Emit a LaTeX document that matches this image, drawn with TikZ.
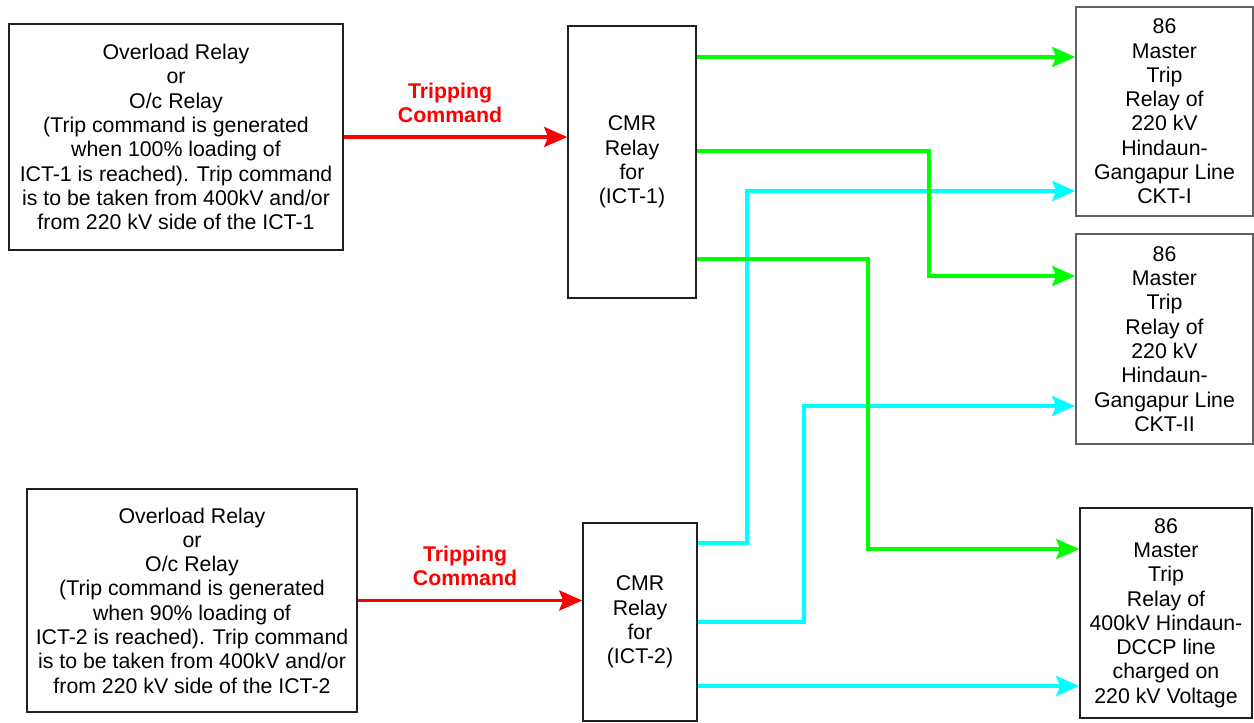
\documentclass[tikz,border=0pt]{standalone}
\usepackage{fontspec}
\setmainfont{Liberation Sans}
\usetikzlibrary{arrows.meta}
\definecolor{grn}{RGB}{0,255,0}
\definecolor{cyn}{RGB}{0,255,255}
\definecolor{rd}{RGB}{255,0,0}
\begin{document}
\begin{tikzpicture}[x=1pt,y=-1pt,
  box/.style={draw=black!88, line width=1.6pt, align=center, inner sep=0pt,
    font=\fontsize{21.3}{24.3}\selectfont},
  greybox/.style={box, draw=black!62},
  lbl/.style={align=center, inner sep=0pt, text=rd,
    font=\fontsize{21.3}{24.3}\selectfont\bfseries},
  tip/.style={-{Stealth[length=23pt,width=20pt,inset=4pt]}},
  redline/.style={tip, draw=rd, line width=3.6pt},
  grnline/.style={tip, draw=grn, line width=4pt},
  cynline/.style={tip, draw=cyn, line width=4pt}]
\useasboundingbox (0,0) rectangle (1254,723);
\fill[white] (0,0) rectangle (1254,723);

% source boxes
\node[box, minimum width=334pt, minimum height=226pt] (a1) at (176,137)
  {Overload Relay\\or\\O/c Relay\\(Trip command is generated\\when 100\% loading of\\ICT-1 is reached). Trip command\\is to be taken from 400kV and/or\\from 220 kV side of the ICT-1};
\node[box, minimum width=330pt, minimum height=223pt] (a2) at (192,600.5)
  {Overload Relay\\or\\O/c Relay\\(Trip command is generated\\when 90\% loading of\\ICT-2 is reached). Trip command\\is to be taken from 400kV and/or\\from 220 kV side of the ICT-2};

% CMR relays
\node[box, minimum width=128pt, minimum height=272pt] (c1) at (632,162)
  {CMR\\Relay\\for\\(ICT-1)};
\node[box, minimum width=114pt, minimum height=198pt] (c2) at (640,622)
  {CMR\\Relay\\for\\(ICT-2)};

% master trip relays
\node[greybox, minimum width=177pt, minimum height=209pt] (r1) at (1164.5,111.5)
  {86\\Master\\Trip\\Relay of\\220 kV\\Hindaun-\\Gangapur Line\\CKT-I};
\node[greybox, minimum width=177pt, minimum height=210pt] (r2) at (1164.5,339)
  {86\\Master\\Trip\\Relay of\\220 kV\\Hindaun-\\Gangapur Line\\CKT-II};
\node[box, minimum width=172pt, minimum height=210pt] (r3) at (1166,613)
  {86\\Master\\Trip\\Relay of\\400kV Hindaun-\\DCCP line\\charged on\\220 kV Voltage};

% labels
\node[lbl] (t1) at (450,103) {Tripping\\Command};
\node[lbl] (t2) at (465,566) {Tripping\\Command};

% red tripping commands
\draw[redline] (a1.east) -- (c1.west |- a1.east);
\draw[redline] (a2.east) -- (c2.west |- a2.east);

% bend points
\coordinate (k1a) at (747,543);
\coordinate (k1b) at (0,191);
\coordinate (k2a) at (804,622);
\coordinate (k2b) at (0,406);
\coordinate (k3) at (0,686);
\coordinate (g1) at (0,57);
\coordinate (g2a) at (929,151);
\coordinate (g2b) at (0,276);
\coordinate (g3a) at (868,259);
\coordinate (g3b) at (0,549);

% cyan (ICT-2) connectors
\draw[cynline] (c2.east |- k1a) -- (k1a) |- (r1.west |- k1b);
\draw[cynline] (c2.east |- k2a) -- (k2a) |- (r2.west |- k2b);
\draw[cynline] (c2.east |- k3) -- (r3.west |- k3);

% green (ICT-1) connectors
\draw[grnline] (c1.east |- g1) -- (r1.west |- g1);
\draw[grnline] (c1.east |- g2a) -- (g2a) |- (r2.west |- g2b);
\draw[grnline] (c1.east |- g3a) -- (g3a) |- (r3.west |- g3b);
\end{tikzpicture}
\end{document}
